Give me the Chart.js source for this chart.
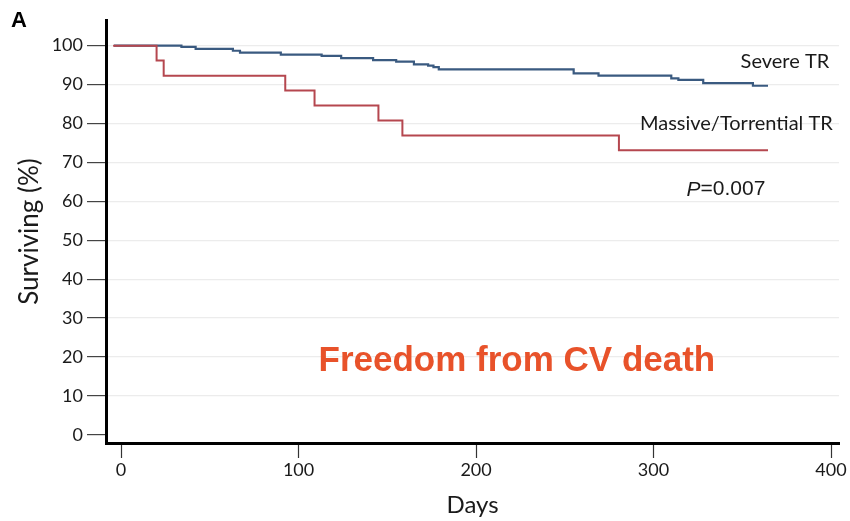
<!DOCTYPE html>
<html lang="en">
<head>
    <meta charset="UTF-8">
    <title>Freedom from CV death</title>
    <script src="https://cdn.jsdelivr.net/npm/chart.js"></script>
    <style>
        html, body { margin: 0; padding: 0; background: #fff; }
        #wrap { width: 850px; height: 521px; position: relative; }
    </style>
</head>
<body>
    <div id="wrap"><canvas id="kmChart" width="850" height="521"></canvas></div>

    <script>
        // Kaplan-Meier steps (day, % surviving)
        const severeDays = [-4, 34, 42, 63, 67, 90, 113, 124, 142, 155, 165, 173, 176, 179, 255, 269, 310, 314, 328, 356, 364.5];
        const severeSurv = [100, 99.7, 99.2, 98.7, 98.2, 97.7, 97.4, 96.8, 96.3, 95.9, 95.2, 94.9, 94.5, 93.9, 92.9, 92.3, 91.6, 91.2, 90.4, 89.7, 89.7];

        const massiveDays = [-4.5, 20, 24, 92.5, 109, 145, 158.5, 280.5, 364.5];
        const massiveSurv = [100, 96.2, 92.3, 88.5, 84.6, 80.8, 76.9, 73.1, 73.1];

        const xTicks = [0, 100, 200, 300, 400];
        const yTicks = [0, 10, 20, 30, 40, 50, 60, 70, 80, 90, 100];

        const labelFont = 'Lato, "DejaVu Sans", sans-serif';

        function toPoints(xs, ys) {
            return xs.map((x, i) => ({ x: x, y: ys[i] }));
        }

        // Text placed on the plot (in data coordinates)
        const notes = {
            id: 'notes',
            afterDraw(chart) {
                const ctx = chart.ctx;
                const xs = chart.scales.x, ys = chart.scales.y;
                ctx.save();
                ctx.textBaseline = 'middle';

                ctx.fillStyle = '#1a1a1a';
                ctx.font = '20px ' + labelFont;
                ctx.textAlign = 'right';
                ctx.fillText('Severe TR', xs.getPixelForValue(399), ys.getPixelForValue(95.8));
                ctx.fillText('Massive/Torrential TR', xs.getPixelForValue(401), ys.getPixelForValue(80.1));

                // P value, italic P
                ctx.font = '21px "Liberation Sans", Arial, sans-serif';
                const pRight = xs.getPixelForValue(363);
                const pY = ys.getPixelForValue(63);
                const rest = '=0.007';
                const restW = ctx.measureText(rest).width;
                ctx.fillText(rest, pRight, pY);
                ctx.font = 'italic 21px "Liberation Sans", Arial, sans-serif';
                ctx.fillText('P', pRight - restW, pY);

                ctx.fillStyle = '#e8522a';
                ctx.font = 'bold 35px "Liberation Sans", Arial, sans-serif';
                ctx.textAlign = 'center';
                ctx.fillText('Freedom from CV death', xs.getPixelForValue(223), ys.getPixelForValue(19));

                ctx.fillStyle = '#000';
                ctx.font = 'bold 22px "Liberation Sans", Arial, sans-serif';
                ctx.textAlign = 'left';
                ctx.fillText('A', 11, 21);
                ctx.restore();
            }
        };

        const ctx = document.getElementById('kmChart').getContext('2d');
        new Chart(ctx, {
            type: 'line',
            data: {
                datasets: [{
                    label: 'Massive/Torrential TR',
                    data: toPoints(massiveDays, massiveSurv),
                    borderColor: '#b5474f',
                    borderWidth: 2,
                    stepped: true,
                    pointRadius: 0,
                    fill: false,
                    order: 0
                }, {
                    label: 'Severe TR',
                    data: toPoints(severeDays, severeSurv),
                    borderColor: '#3a5a80',
                    borderWidth: 2.2,
                    stepped: true,
                    pointRadius: 0,
                    fill: false,
                    order: 1
                }]
            },
            options: {
                responsive: false,
                animation: false,
                layout: { padding: { top: 20, right: 11, left: 0, bottom: 0 } },
                plugins: {
                    legend: { display: false },
                    tooltip: { enabled: false }
                },
                scales: {
                    x: {
                        type: 'linear',
                        min: -8.5,
                        max: 404.5,
                        afterBuildTicks: axis => { axis.ticks = xTicks.map(v => ({ value: v })); },
                        afterFit: axis => { axis.height = 78; },
                        border: { color: '#000', width: 3 },
                        grid: {
                            drawOnChartArea: false,
                            tickLength: 15,
                            tickColor: '#333',
                            tickWidth: 1.2
                        },
                        ticks: {
                            color: '#1a1a1a',
                            font: { family: labelFont, size: 18 },
                            padding: 1,
                            maxRotation: 0
                        },
                        title: {
                            display: true,
                            text: 'Days',
                            color: '#1a1a1a',
                            font: { family: labelFont, size: 24 },
                            padding: { top: 0, bottom: 1 }
                        }
                    },
                    y: {
                        min: -2.1,
                        max: 106.6,
                        afterBuildTicks: axis => { axis.ticks = yTicks.map(v => ({ value: v })); },
                        afterFit: axis => { axis.width = 106; },
                        border: { color: '#000', width: 3 },
                        grid: {
                            color: c => (c.tick && c.tick.value === 0) ? 'rgba(0,0,0,0)' : '#ececec',
                            lineWidth: 1.2,
                            tickLength: 19,
                            tickColor: '#444',
                            tickWidth: 1.2
                        },
                        ticks: {
                            color: '#1a1a1a',
                            font: { family: labelFont, size: 18 },
                            padding: 4
                        },
                        title: {
                            display: true,
                            text: 'Surviving (%)',
                            color: '#1a1a1a',
                            font: { family: labelFont, size: 26 },
                            padding: { top: 14, bottom: 0 }
                        }
                    }
                }
            },
            plugins: [notes]
        });
    </script>
</body>
</html>
